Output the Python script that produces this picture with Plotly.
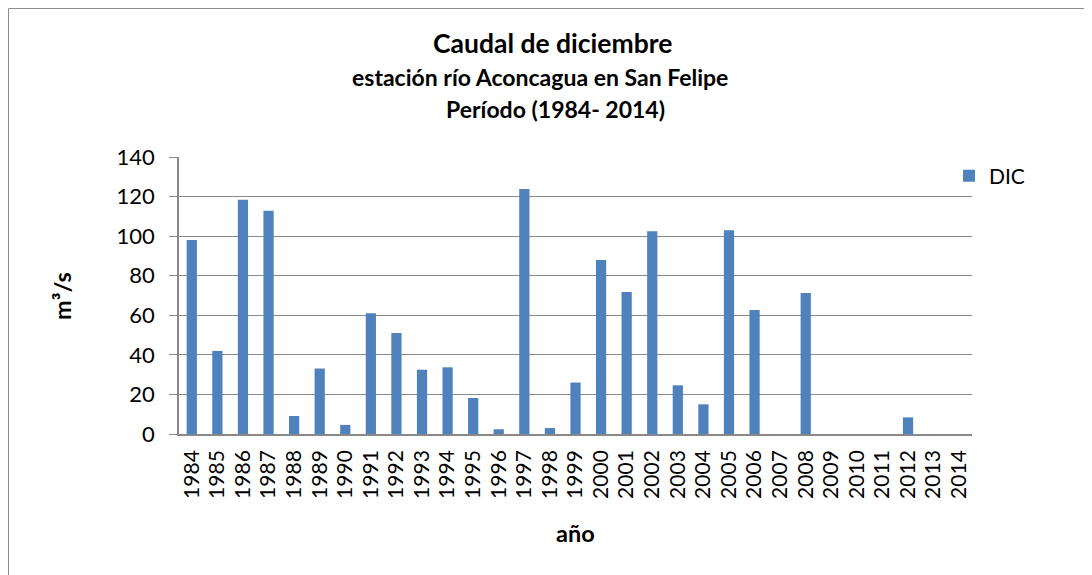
import plotly.graph_objects as go

years = [str(y) for y in range(1984, 2015)]
dic = [98.0, 42.0, 118.4, 112.8, 9.1, 33.1, 4.6, 61.0, 51.1, 32.5, 33.7, 18.2, 2.4,
       123.8, 3.0, 26.0, 88.0, 71.8, 102.5, 24.6, 15.0, 103.0, 62.7, 0, 71.3,
       0, 0, 0, 8.4, 0, 0]
yticks = [0, 20, 40, 60, 80, 100, 120, 140]

OFF = 8  # page body margin
W, H = 1092 - OFF, 575 - OFF
# target plot-area edges in screen pixels
L, R, T, B = 179, 972, 157, 434
pw, ph = R - L, B - T


def px(x):
    return (x - L) / pw


def py(y):
    return (B - y) / ph


FONT = "Lato"

fig = go.Figure()
fig.add_trace(go.Bar(x=years, y=dic, name="DIC", marker_color="#4F81BD",
                     marker_line_width=0))

annotations = [
    dict(text="<b>Caudal de diciembre</b>", x=px(552), y=py(43), size=26.5),
    dict(text="<b>estación río Aconcagua en San Felipe</b>", x=px(540), y=py(77), size=23),
    dict(text="<b>Período (1984- 2014)</b>", x=px(555), y=py(109), size=23),
    dict(text="<b>año</b>", x=px(575), y=py(533), size=23.5),
]
ann = []
for a in annotations:
    ann.append(dict(text=a["text"], x=a["x"], y=a["y"], xref="paper", yref="paper",
                    showarrow=False, xanchor="center", yanchor="middle",
                    font=dict(family=FONT, size=a["size"], color="#000000")))
ann.append(dict(text="<b>m³/s</b>", x=px(62), y=py(296), xref="paper", yref="paper",
                showarrow=False, textangle=-90, xanchor="center", yanchor="middle",
                font=dict(family=FONT, size=23.5, color="#000000")))

fig.update_layout(
    width=W, height=H,
    margin=dict(l=L - OFF, r=W - (R - OFF), t=T - OFF, b=H - (B - OFF), pad=0),
    paper_bgcolor="white", plot_bgcolor="white",
    bargap=0.6,
    showlegend=True,
    legend=dict(x=px(949), y=py(176), xanchor="left", yanchor="middle",
                font=dict(family=FONT, size=21, color="#000000"),
                bgcolor="rgba(0,0,0,0)", itemclick=False),
    annotations=ann,
    shapes=[dict(type="rect", xref="paper", yref="paper",
                 x0=px(OFF + 0.5), x1=px(1100), y0=py(OFF + 0.5), y1=py(590),
                 line=dict(color="#8c8c8c", width=1), layer="below")],
    font=dict(family=FONT, color="#000000"),
)

fig.update_xaxes(type="category", tickangle=-90, showgrid=False,
                 showline=True, linecolor="#888888", linewidth=1.5,
                 ticks="", tickfont=dict(family=FONT, size=21, color="#000000"),
                 ticklabelstandoff=6)
fig.update_yaxes(range=[0, 140], tickvals=yticks, showgrid=True,
                 gridcolor="#8a8a8a", gridwidth=1.2,
                 showline=True, linecolor="#888888", linewidth=1.5,
                 ticks="outside", ticklen=8, tickcolor="#888888", tickwidth=1.2,
                 tickfont=dict(family=FONT, size=22, color="#000000"),
                 ticklabelstandoff=10, zeroline=False)

fig.write_html("out.html")
